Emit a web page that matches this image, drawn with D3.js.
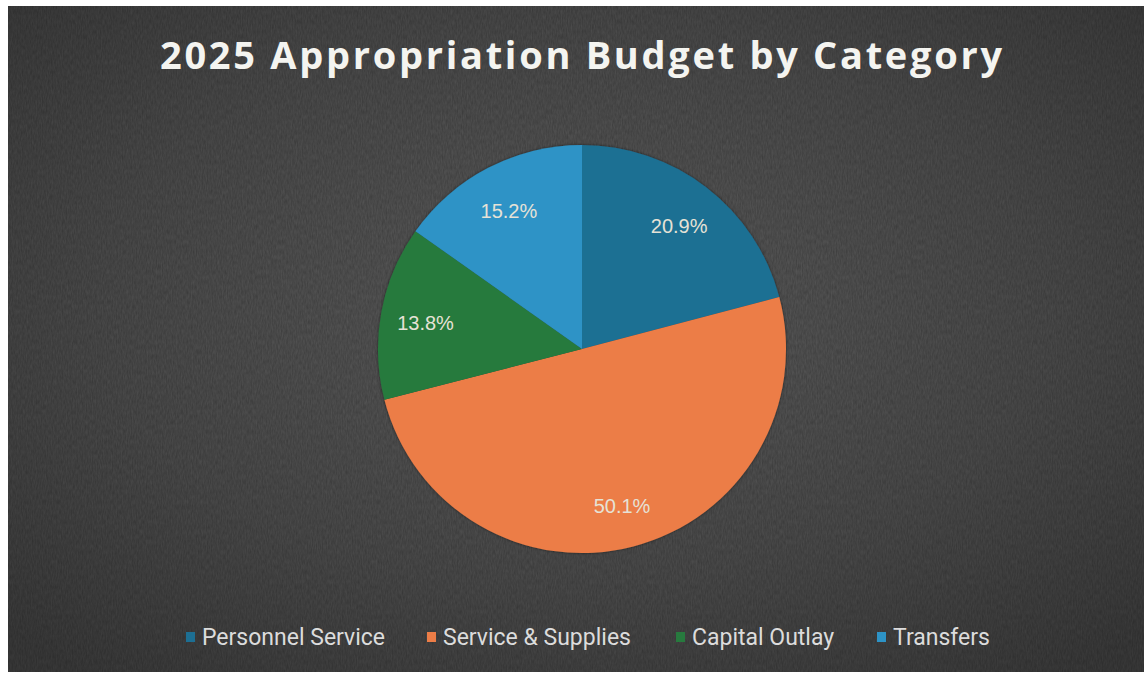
<!DOCTYPE html>
<html>
<head>
<meta charset="utf-8">
<script src="https://cdn.jsdelivr.net/npm/d3@7"></script>
<style>
  html, body { margin: 0; padding: 0; background: #ffffff; }
  svg { display: block; }
</style>
</head>
<body>
<svg id="chart" width="1144" height="677"></svg>
<script>
// Budget shares by category (percent of total appropriation)
const categories = ["Personnel Service", "Service & Supplies", "Capital Outlay", "Transfers"];
const shares = [20.9, 50.1, 13.8, 15.2];
const sliceColors = ["#1d6f93", "#ec7d47", "#277a3e", "#2d93c6"];
const title = "2025 Appropriation Budget by Category";

const W = 1144, H = 677;
const svg = d3.select("#chart");
const defs = svg.append("defs");

// Dark slate panel with a soft lighter center
const grad = defs.append("radialGradient").attr("id", "panelGrad")
  .attr("cx", "50%").attr("cy", "45%").attr("r", "70%");
grad.append("stop").attr("offset", "0%").attr("stop-color", "#5e5e5e");
grad.append("stop").attr("offset", "60%").attr("stop-color", "#4d4d4d");
grad.append("stop").attr("offset", "100%").attr("stop-color", "#3c3c3c");

// Fine grain over the panel
const grain = defs.append("filter").attr("id", "grain")
  .attr("x", 0).attr("y", 0).attr("width", "100%").attr("height", "100%");
grain.append("feTurbulence").attr("type", "fractalNoise")
  .attr("baseFrequency", "0.8 0.2").attr("numOctaves", 2).attr("seed", 7).attr("result", "n");
grain.append("feColorMatrix").attr("type", "matrix")
  .attr("values", "0 0 0 0 0  0 0 0 0 0  0 0 0 0 0  0 0 0 0.28 0");

const shadow = defs.append("filter").attr("id", "pieShadow")
  .attr("x", "-10%").attr("y", "-10%").attr("width", "120%").attr("height", "120%");
shadow.append("feDropShadow").attr("dx", 0).attr("dy", 0).attr("stdDeviation", 1.5)
  .attr("flood-color", "#000").attr("flood-opacity", 0.55);

const panel = { x: 8, y: 6, w: W - 8, h: 666 };
svg.append("rect").attr("x", panel.x).attr("y", panel.y).attr("width", panel.w).attr("height", panel.h)
  .attr("fill", "url(#panelGrad)");
svg.append("rect").attr("x", panel.x).attr("y", panel.y).attr("width", panel.w).attr("height", panel.h)
  .attr("filter", "url(#grain)").attr("fill", "#000");

// Title
svg.append("text")
  .attr("x", 581).attr("y", 69)
  .attr("text-anchor", "middle")
  .attr("font-family", "'Open Sans', sans-serif")
  .attr("font-weight", 700)
  .attr("font-size", 38)
  .attr("fill", "#f4f4f0")
  .attr("textLength", 842)
  .attr("lengthAdjust", "spacing")
  .text(title);

// Pie
const cx = 582, cy = 349, radius = 204;
const data = categories.map((c, i) => ({ name: c, value: shares[i], color: sliceColors[i] }));
const pie = d3.pie().value(d => d.value).sort(null);
const arcs = pie(data);
const arc = d3.arc().innerRadius(0).outerRadius(radius);
const labelArc = d3.arc().innerRadius(radius * 0.78).outerRadius(radius * 0.78);

const g = svg.append("g").attr("transform", `translate(${cx},${cy})`);
g.append("g").attr("filter", "url(#pieShadow)")
  .selectAll("path").data(arcs).join("path")
  .attr("d", arc)
  .attr("fill", d => d.data.color);

g.selectAll("text.lbl").data(arcs).join("text")
  .attr("class", "lbl")
  .attr("transform", d => {
    const [x, y] = labelArc.centroid(d);
    return `translate(${x},${y + 3})`;
  })
  .attr("text-anchor", "middle")
  .attr("dominant-baseline", "central")
  .attr("font-family", "'Liberation Sans', Arial, sans-serif")
  .attr("font-size", 20)
  .attr("fill", "#e6e2d6")
  .text(d => d.data.value.toFixed(1) + "%");

// Legend
const legendX = [186, 427, 676, 877];
const legendY = 637;
const lg = svg.append("g");
const items = lg.selectAll("g").data(data).join("g")
  .attr("transform", (d, i) => `translate(${legendX[i]},${legendY})`);
items.append("rect").attr("x", 0).attr("y", -5).attr("width", 9).attr("height", 10)
  .attr("fill", d => d.color);
items.append("text")
  .attr("x", 16).attr("y", 0)
  .attr("dominant-baseline", "central")
  .attr("font-family", "Roboto, 'Liberation Sans', sans-serif")
  .attr("font-size", 23)
  .attr("fill", "#dcdcdc")
  .text(d => d.name);
</script>
</body>
</html>
